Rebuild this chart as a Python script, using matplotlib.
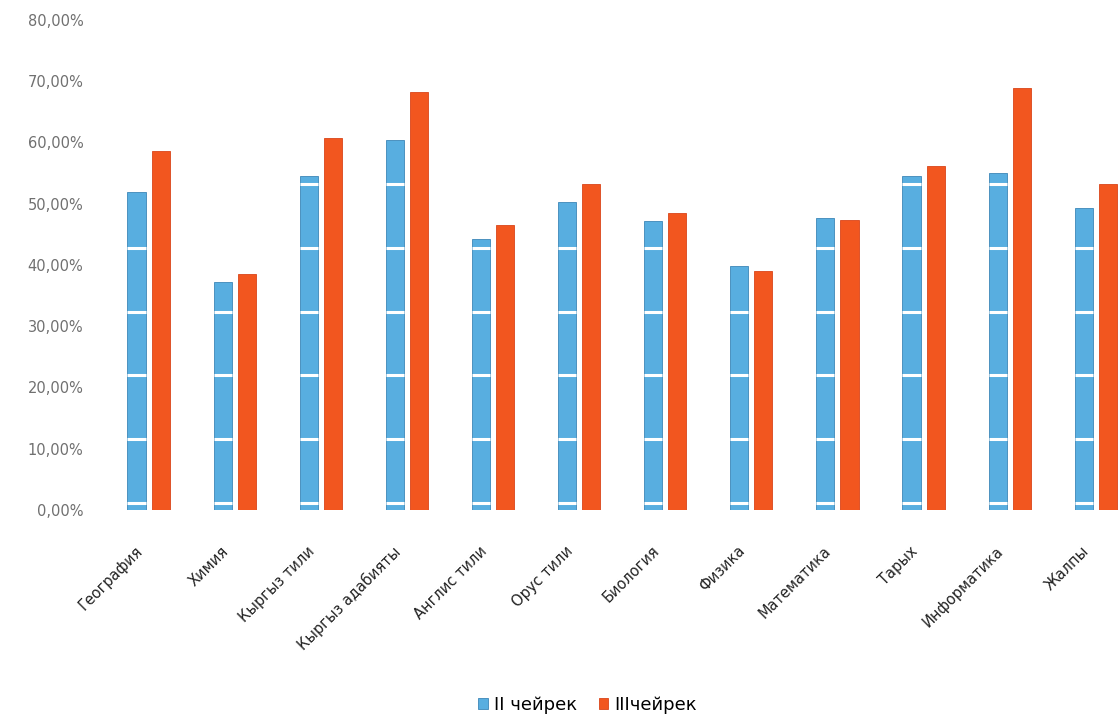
import matplotlib
matplotlib.use("Agg")
import matplotlib.pyplot as plt
import numpy as np
from matplotlib.ticker import FuncFormatter
from matplotlib.transforms import ScaledTranslation

categories = ["География", "Химия", "Кыргыз тили", "Кыргыз адабияты", "Англис тили",
              "Орус тили", "Биология", "Физика", "Математика", "Тарых",
              "Информатика", "Жалпы"]
q2 = [51.9, 37.3, 54.6, 60.4, 44.3, 50.2, 47.1, 39.9, 47.7, 54.5, 55.0, 49.3]
q3 = [58.6, 38.6, 60.7, 68.2, 46.5, 53.3, 48.5, 39.0, 47.3, 56.1, 68.9, 53.3]
series_names = ["II чейрек", "IIIчейрек"]
yticks = [0, 10, 20, 30, 40, 50, 60, 70, 80]

blue = "#58AEE0"
red = "#F2561F"

fig = plt.figure(figsize=(11.19, 7.18), dpi=100)
ax = fig.add_axes([0.0943, 0.2897, 0.9057, 0.6825])

x = np.arange(len(categories))
off = 0.14
w = 0.21
b1 = ax.bar(x - off, q2, width=w, color=blue, edgecolor="#3d86b8", linewidth=0.6,
            label=series_names[0], zorder=2)
b2 = ax.bar(x + off, q3, width=w, color=red, edgecolor="#d9451a", linewidth=0.6,
            label=series_names[1], zorder=2)

# white stripes inside the blue bars (brick-like picture fill)
for xi, v in zip(x, q2):
    levels = np.arange(1.2, v, 10.4)
    ax.hlines(levels, xi - off - w / 2, xi - off + w / 2, colors="white",
              linewidth=2.2, zorder=3)

ax.set_xlim(-0.5, 11.27)
ax.set_ylim(0, 80)
ax.set_yticks(yticks)
ax.yaxis.set_major_formatter(FuncFormatter(lambda v, p: f"{v:.2f}%".replace(".", ",")))
ax.tick_params(axis="y", length=0, labelsize=10.5, labelcolor="#707070", pad=16)
ax.set_xticks(x)
ax.set_xticklabels(categories, rotation=45, ha="right", rotation_mode="anchor",
                   fontsize=10.5, color="#222222")
ax.tick_params(axis="x", length=0, pad=24)
shift = ScaledTranslation(-14 / 100, 0, fig.dpi_scale_trans)
for lab in ax.get_xticklabels():
    lab.set_transform(lab.get_transform() + shift)
for s in ax.spines.values():
    s.set_visible(False)

fig.legend(handles=[b1, b2], labels=series_names, loc="center",
           bbox_to_anchor=(0.525, 0.018), ncol=2, frameon=False, fontsize=13,
           handlelength=0.55, handleheight=0.55, handletextpad=0.3, columnspacing=1.2)

fig.savefig("out.png", dpi=100, facecolor="white")
